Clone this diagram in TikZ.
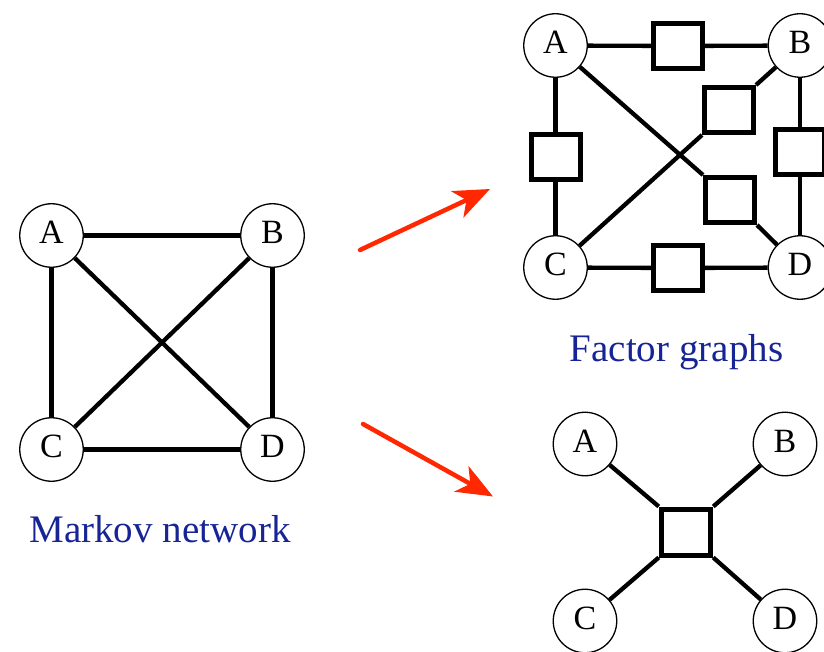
\documentclass[tikz,border=0pt]{standalone}
\usepackage{fontspec}
\setmainfont{Liberation Serif}
\usetikzlibrary{arrows.meta}
\definecolor{labelblue}{RGB}{22,36,150}
\definecolor{arrowred}{RGB}{255,40,0}
\begin{document}
\begin{tikzpicture}[x=1pt,y=-1pt,
  var/.style={circle,draw,line width=1.3pt,minimum size=63.5pt,inner sep=0pt,
    text depth=6pt,font=\fontsize{34}{34}\selectfont},
  factor/.style={rectangle,draw,line width=5pt,minimum width=49pt,
    minimum height=45pt,inner sep=0pt},
  edge/.style={line width=4.3pt},
  caption/.style={text=labelblue,font=\fontsize{39}{39}\selectfont,anchor=base},
  flow/.style={draw=arrowred,line width=4.5pt,line cap=round,
    -{Stealth[length=36pt,width=29pt,inset=10pt]}}]
\useasboundingbox (0,0) rectangle (824,652);
\clip (0,0) rectangle (824,652);

% Markov network
\node[var] (mA) at (51.5,235.5) {A};
\node[var] (mB) at (272.5,235.5) {B};
\node[var] (mC) at (51.5,449.5) {C};
\node[var] (mD) at (272.5,449.5) {D};
\draw[edge] (mA) -- (mB);
\draw[edge] (mA) -- (mC);
\draw[edge] (mC) -- (mD);
\draw[edge] (mB) -- (mD);
\draw[edge] (mA) -- (mD);
\draw[edge] (mB) -- (mC);
\node[caption] (mcap) at (160,542) {Markov network};

% Arrows
\coordinate (u0) at (360,250);
\coordinate (u1) at (490,189);
\coordinate (l0) at (363,424);
\coordinate (l1) at (493,496.5);
\draw[flow] (u0) -- (u1);
\draw[flow] (l0) -- (l1);

% Pairwise factor graph
\node[var] (pA) at (555.5,45.5) {A};
\node[var] (pB) at (800,45.5) {B};
\node[var] (pC) at (555.5,267.5) {C};
\node[var] (pD) at (800,267.5) {D};
\node[factor] (fAB) at (678,46) {};
\node[factor] (fAC) at (555.5,157) {};
\node[factor] (fBD) at (800,152.5) {};
\node[factor] (fCD) at (678,268) {};
\node[factor] (fBC) at (729,110) {};
\node[factor] (fAD) at (730,200) {};
\draw[edge] (pA) -- (fAB) -- (pB);
\draw[edge] (pA) -- (fAC) -- (pC);
\draw[edge] (pB) -- (fBD) -- (pD);
\draw[edge] (pC) -- (fCD) -- (pD);
\draw[edge] (pA) -- (fAD.north west);
\draw[edge] (fAD.south east) -- (pD);
\draw[edge] (pB) -- (fBC.north east);
\draw[edge] (fBC.south west) -- (pC);
\node[caption] (fcap) at (676.5,361) {Factor graphs};

% Single-factor graph
\node[var] (sA) at (585,444) {A};
\node[var] (sB) at (785,444) {B};
\node[var] (sC) at (585,621) {C};
\node[var] (sD) at (785,621) {D};
\node[factor,minimum width=49.5pt,minimum height=46pt] (fS) at (686,532) {};
\draw[edge] (sA) -- (fS.north west);
\draw[edge] (sB) -- (fS.north east);
\draw[edge] (sC) -- (fS.south west);
\draw[edge] (sD) -- (fS.south east);
\end{tikzpicture}
\end{document}
